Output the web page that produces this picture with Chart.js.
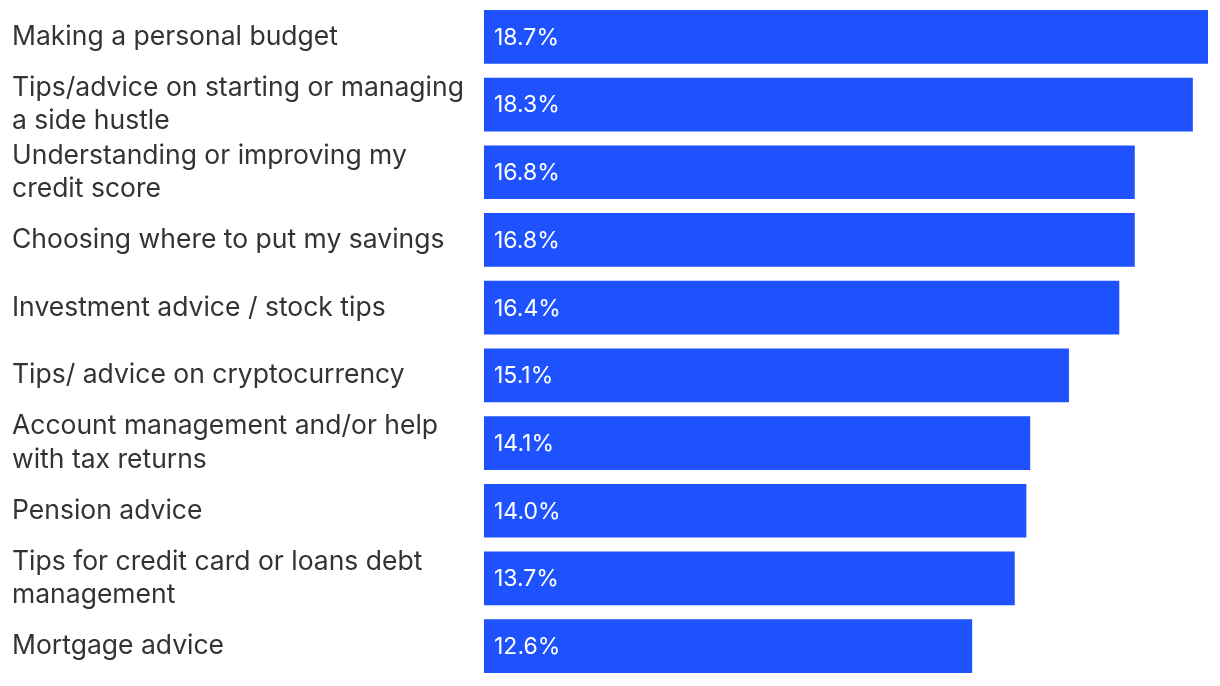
<!DOCTYPE html>
<html>
<head>
<meta charset="utf-8">
<script src="https://cdn.jsdelivr.net/npm/chart.js@4"></script>
<style>
   html, body { margin: 0; padding: 0; background: #ffffff; }
   .wrap { width: 1220px; height: 686px; position: relative; }
</style>
</head>
<body>
<div class="wrap"><canvas id="myChart"></canvas></div>
<script>
// ==========================================
// Data
// ==========================================

const labels = [
   ["Making a personal budget"],
   ["Tips/advice on starting or managing", "a side hustle"],
   ["Understanding or improving my", "credit score"],
   ["Choosing where to put my savings"],
   ["Investment advice / stock tips"],
   ["Tips/ advice on cryptocurrency"],
   ["Account management and/or help", "with tax returns"],
   ["Pension advice"],
   ["Tips for credit card or loans debt", "management"],
   ["Mortgage advice"]
];
const values = [18.7, 18.3, 16.8, 16.8, 16.4, 15.1, 14.1, 14.0, 13.7, 12.6];

// ==========================================
// Value labels inside the bars
// ==========================================

const valueLabels = {
   id: "valueLabels",
   afterDatasetsDraw(chart) {
      const ctx = chart.ctx;
      const meta = chart.getDatasetMeta(0);
      ctx.save();
      ctx.fillStyle = "#ffffff";
      ctx.font = "23px Inter";
      ctx.textAlign = "left";
      ctx.textBaseline = "middle";
      meta.data.forEach((bar, i) => {
         ctx.fillText(values[i].toFixed(1) + "%", bar.base + 10, bar.y + 1);
      });
      ctx.restore();
   }
};

// ==========================================
// Chart
// ==========================================

const ctx = document.getElementById("myChart");

let chart = new Chart(ctx, {
   type: "bar",
   data: {
      labels: labels,
      datasets: [{
         data: values,
         backgroundColor: "#1f52ff",
         barThickness: 53
      }]
   },
   options: {
      indexAxis: "y",
      responsive: true,
      maintainAspectRatio: false,
      animation: false,
      layout: { padding: { left: 12, right: 12, top: 3, bottom: 6 } },
      plugins: {
         legend: { display: false },
         tooltip: { enabled: false }
      },
      scales: {
         x: {
            min: 0,
            max: 18.7,
            display: false
         },
         y: {
            grid: { display: false, drawTicks: false },
            border: { display: false },
            afterFit: (scale) => {
               scale.width = 472;
               scale.paddingTop = 0;
               scale.paddingBottom = 0;
            },
            ticks: {
               autoSkip: false,
               crossAlign: "far",
               padding: 0,
               color: "#333333",
               font: { family: "Inter", size: 26.5, lineHeight: 1.25 }
            }
         }
      }
   },
   plugins: [valueLabels]
});
</script>
</body>
</html>
